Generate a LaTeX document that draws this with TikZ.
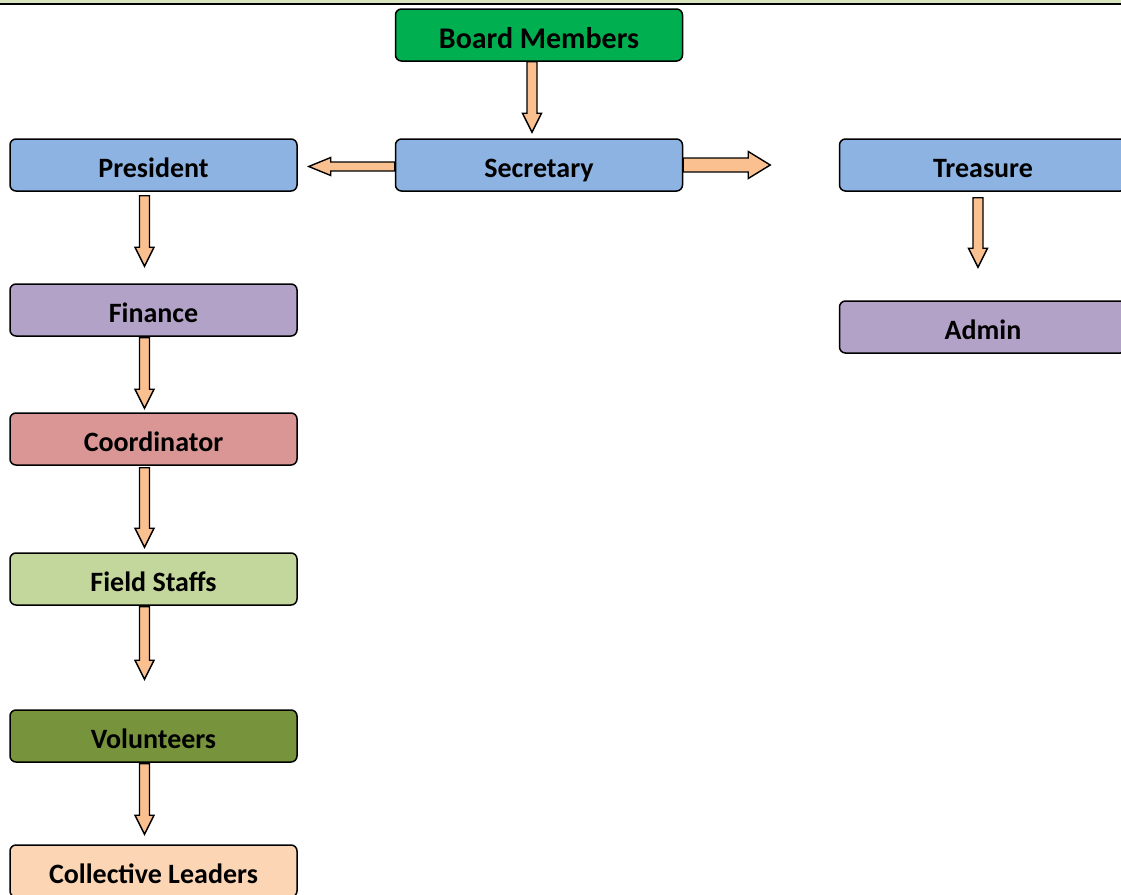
\documentclass[tikz,border=0pt]{standalone}
\usepackage{fontspec}
\setmainfont{Carlito}
\usetikzlibrary{calc,positioning}

\definecolor{bandgreen}{HTML}{D7E4BD}
\definecolor{boardgreen}{HTML}{00B050}
\definecolor{rolblue}{HTML}{8DB3E2}
\definecolor{rolpurple}{HTML}{B3A2C7}
\definecolor{rolred}{HTML}{D99694}
\definecolor{rollime}{HTML}{C3D69B}
\definecolor{rololive}{HTML}{77933C}
\definecolor{rolpeach}{HTML}{FCD5B5}
\definecolor{arrowpeach}{HTML}{FAC090}

%% block arrow: #2 start, #3 tip, #4 half shaft, #5 half head, #6 head length
\newcommand{\blockarrow}[6][]{%
	\path #2 coordinate (s) #3 coordinate (t) ($(t)!#6!(s)$) coordinate (b);
	\draw [arrowst,#1] ($(s)!#4!90:(t)$) -- ($(b)!#4!90:(t)$) -- ($(b)!#5!90:(t)$) -- (t) -- ($(b)!#5!-90:(t)$) -- ($(b)!#4!-90:(t)$) -- ($(s)!#4!-90:(t)$) -- cycle;}

\begin{document}
\begin{tikzpicture} [x=1pt,y=-1pt,{role/.style={rectangle,rounded corners=6pt,draw=black,line width=1.5pt,minimum width=287pt,minimum height=52pt,inner sep=0pt,text height=24pt,text depth=0pt,font=\fontsize{28}{30}\selectfont\bfseries}},{arrowst/.style={draw=black,line width=1.4pt,fill=arrowpeach,line join=miter}}]
	%%frame
	\useasboundingbox (0,0) rectangle (1121,894);
	\fill [bandgreen] (0,0) rectangle (1121,4);
	\draw [line width=1.6pt] (0,4) -- (1121,4);

	%%boxes
	\node [role,fill=boardgreen,font=\fontsize{30}{32}\selectfont\bfseries,text height=26pt] (board) at (539,35) {Board Members};
	\node [role,fill=rolblue] (secretary) at (539,165) {Secretary};
	\node [role,fill=rolblue] (president) at (153.5,165) {President};
	\node [role,fill=rolblue] (treasure) at (983,165) {Treasure};
	\node [role,fill=rolpurple] (finance) at (153.5,310) {Finance};
	\node [role,fill=rolpurple] (admin) at (983,327) {Admin};
	\node [role,fill=rolred] (coordinator) at (153.5,439) {Coordinator};
	\node [role,fill=rollime] (field) at (153.5,579) {Field Staffs};
	\node [role,fill=rololive] (volunteers) at (153.5,736) {Volunteers};
	\node [role,fill=rolpeach] (leaders) at (153.5,871) {Collective Leaders};

	%%arrows
	\blockarrow{($(board.south)+(-7,0)$)}{($(secretary.north)+(-7,-6)$)}{5pt}{9.5pt}{19pt}
	\blockarrow{($(secretary.west)+(0,1.5)$)}{($(president.east)+(11,1.5)$)}{4.5pt}{9pt}{22pt}
	\coordinate (secright) at ($(secretary.east)+(87,0)$);
	\blockarrow{(secretary.east)}{(secright)}{7pt}{13.5pt}{22pt}
	\blockarrow{($(president.south)+(-9,4)$)}{($(finance.north)+(-9,-17)$)}{5pt}{9.5pt}{19pt}
	\blockarrow{($(treasure.south)+(-5,6)$)}{($(admin.north)+(-5,-33)$)}{5pt}{9.5pt}{19pt}
	\blockarrow{($(finance.south)+(-9,1)$)}{($(coordinator.north)+(-9,-4)$)}{5pt}{9.5pt}{19pt}
	\blockarrow{($(coordinator.south)+(-9,2)$)}{($(field.north)+(-9,-5)$)}{5pt}{9.5pt}{19pt}
	\blockarrow{($(field.south)+(-9,1)$)}{($(volunteers.north)+(-9,-30)$)}{5pt}{9.5pt}{19pt}
	\blockarrow{($(volunteers.south)+(-9,1)$)}{($(leaders.north)+(-9,-10)$)}{5pt}{9.5pt}{19pt}
\end{tikzpicture}
\end{document}
